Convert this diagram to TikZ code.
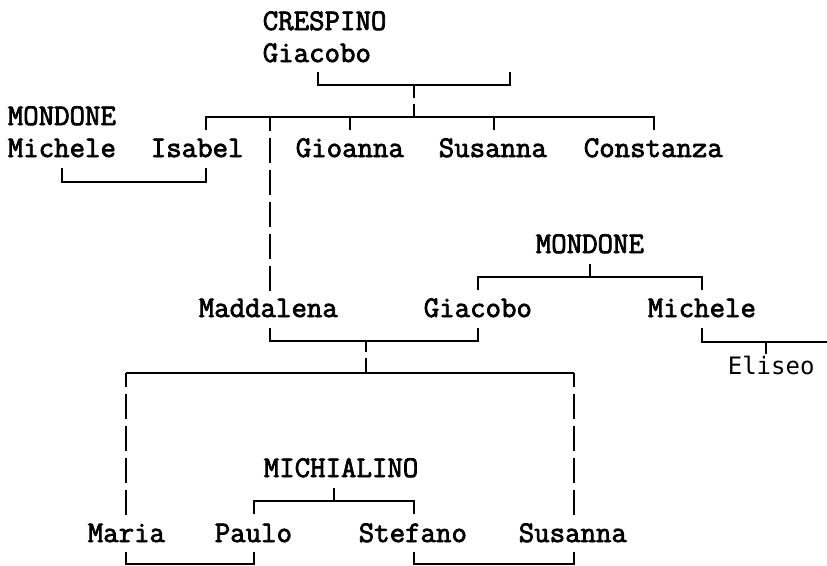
\documentclass[tikz,border=0pt]{standalone}
\usepackage{fontspec}
\setmonofont[FakeBold=2.5]{Latin Modern Mono}
\newfontfamily\elifont{DejaVu Sans Mono}
\tikzset{
	person/.style = {anchor=base west, inner sep=0pt,
		font=\ttfamily\fontsize{30}{30}\selectfont},
	kid/.style = {person, font=\elifont\fontsize{24}{24}\selectfont},% other hand
	gapline/.style = {dash pattern=on 25pt off 7pt},% long dashed descent
	shortgap/.style = {dash pattern=on 13pt off 6pt}
}
\begin{document}
\begin{tikzpicture}[x=1pt,y=-1pt,line width=1.6pt]
	\useasboundingbox (0,0) rectangle (827,565);
	% CRESPINO
	\node[person] (crespino) at (262,30) {CRESPINO};
	\node[person] (giacobo1) at (262,62) {Giacobo};
	\node[person] (mondone1) at (7,125) {MONDONE};
	\node[person] (michele1) at (7,157) {Michele};
	\node[person] (isabel) at (150,157) {Isabel};
	\node[person] (gioanna) at (295,157) {Gioanna};
	\node[person] (susanna1) at (438,157) {Susanna};
	\node[person] (constanza) at (583,157) {Constanza};
	% MONDONE
	\node[person] (mondone2) at (535,253) {MONDONE};
	\node[person] (maddalena) at (198,317) {Maddalena};
	\node[person] (giacobo2) at (423,317) {Giacobo};
	\node[person] (michele2) at (647,317) {Michele};
	\node[kid] (eliseo) at (727,374) {Eliseo};
	% MICHIALINO
	\node[person] (michialino) at (263,477) {MICHIALINO};
	\node[person] (maria) at (87,542) {Maria};
	\node[person] (paulo) at (214,542) {Paulo};
	\node[person] (stefano) at (358,542) {Stefano};
	\node[person] (susanna2) at (518,542) {Susanna};

	\coordinate (giacobo1B) at (318,72);
	\coordinate (wifeB) at (510,72);
	\coordinate (marr1) at (414,85);
	\coordinate (kids1) at (414,117);
	\coordinate (isabelT) at (206,130);
	\coordinate (gioannaT) at (350,130);
	\coordinate (susanna1T) at (494,130);
	\coordinate (constanzaT) at (654,130);
	\coordinate (michele1B) at (62,168);
	\coordinate (isabelB) at (206,168);
	\coordinate (maddalenaT) at (270,291);
	\coordinate (maddalenaJ) at (270,117);
	\coordinate (mondone2B) at (590,264);
	\coordinate (giacobo2T) at (478,290);
	\coordinate (michele2T) at (702,290);
	\coordinate (maddalenaB) at (270,328);
	\coordinate (giacobo2B) at (478,328);
	\coordinate (marr2) at (366,341);
	\coordinate (michele2B) at (702,328);
	\coordinate (offpage) at (827,342);
	\coordinate (eliseoT) at (766,354);
	\coordinate (kidsL) at (126,373);
	\coordinate (kids2) at (366,373);
	\coordinate (kidsR) at (574,373);
	\coordinate (mariaT) at (126,515);
	\coordinate (susanna2T) at (574,515);
	\coordinate (michialinoB) at (334,488);
	\coordinate (pauloT) at (254,514);
	\coordinate (stefanoT) at (414,514);
	\coordinate (mariaB) at (126,552);
	\coordinate (pauloB) at (254,552);
	\coordinate (stefanoB) at (414,552);
	\coordinate (susanna2B) at (574,552);

	\draw (giacobo1B) |- (marr1) -| (wifeB);
	\draw[shortgap] (marr1) -- (kids1);
	\draw (isabelT) -- ++(0,-13) -| (constanzaT);
	\draw (gioannaT) -- ++(0,-13);
	\draw (susanna1T) -- ++(0,-13);
	\draw (michele1B) -- ++(0,14) -| (isabelB);
	\draw[gapline] (maddalenaT) -- (maddalenaJ);

	\draw (mondone2B) -- ++(0,13);
	\draw (giacobo2T) -- ++(0,-13) -| (michele2T);
	\draw (maddalenaB) |- (marr2) -| (giacobo2B);
	\draw[dash pattern=on 11pt off 6pt on 16pt off 6pt] (marr2) -- (kids2);
	\draw (michele2B) |- (offpage);
	\draw (eliseoT) -- ++(0,-12);

	\draw (kidsL) -- (kidsR);
	\draw[gapline] (mariaT) -- (kidsL);
	\draw[gapline] (susanna2T) -- (kidsR);
	\draw (michialinoB) -- ++(0,13);
	\draw (pauloT) -- ++(0,-13) -| (stefanoT);
	\draw (mariaB) -- ++(0,12) -| (pauloB);
	\draw (stefanoB) -- ++(0,12) -| (susanna2B);
\end{tikzpicture}
\end{document}
